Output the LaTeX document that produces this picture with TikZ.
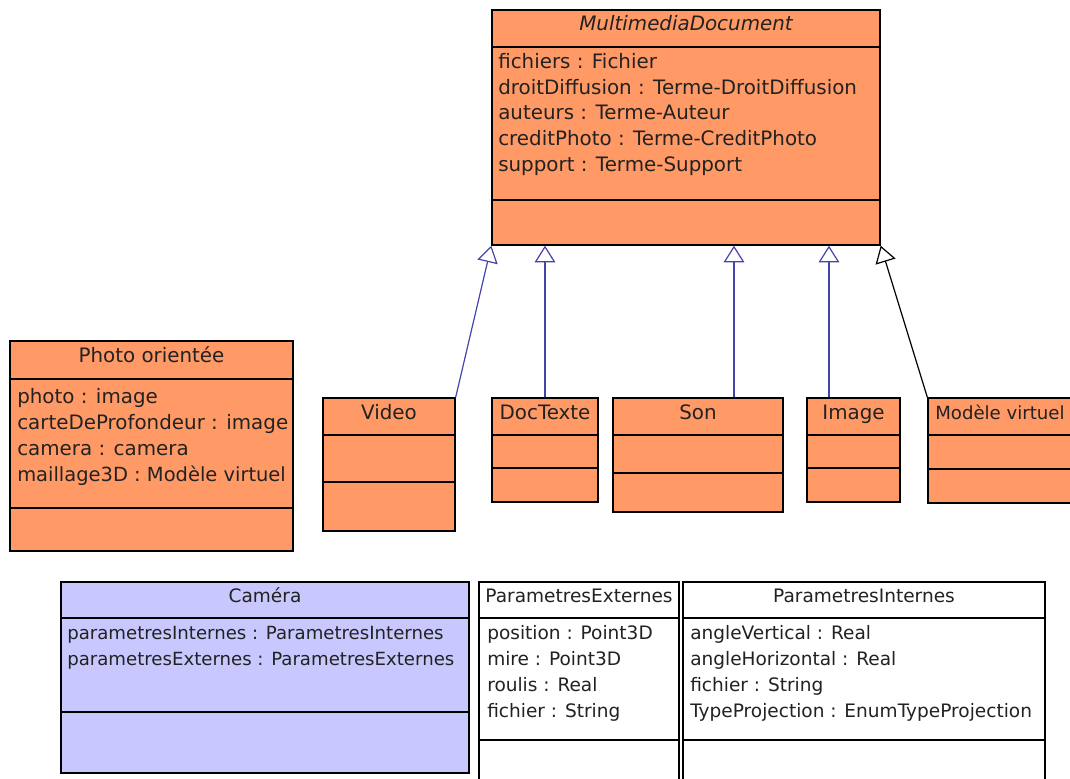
\documentclass[tikz,border=0pt]{standalone}
\usepackage{fontspec}
\setmainfont{DejaVu Sans}
\usetikzlibrary{arrows.meta,fit,calc,shadows}
\definecolor{orangefill}{HTML}{FF9966}
\definecolor{lavfill}{HTML}{C8C8FF}
\definecolor{inhblue}{HTML}{4444AA}
\definecolor{txt}{HTML}{222222}
\begin{document}
\begin{tikzpicture}[x=0.75pt,y=-0.75pt,
  classbox/.style={draw=black, line width=1pt, inner sep=0pt,
    drop shadow={shadow xshift=1pt, shadow yshift=-1pt, opacity=0.25}},
  orangebox/.style={classbox, fill=orangefill},
  lavbox/.style={classbox, fill=lavfill},
  whitebox/.style={classbox, fill=white},
  sepline/.style={draw=black, line width=1pt},
  attr/.style={anchor=base west, inner sep=0pt, text=txt, font=\fontsize{14.9pt}{17pt}\selectfont},
  battr/.style={attr, font=\fontsize{13.9pt}{17pt}\selectfont},
  ctitle/.style={anchor=base, inner sep=0pt, text=txt, font=\fontsize{14.9pt}{17pt}\selectfont},
  bctitle/.style={ctitle, font=\fontsize{13.9pt}{17pt}\selectfont},
  inhb/.style={draw=inhblue, line width=0.9pt, -{Triangle[open, length=12.5pt, width=15.5pt, fill=white]}},
  inhk/.style={draw=black, line width=0.9pt, -{Triangle[open, length=12.5pt, width=15.5pt, fill=white]}}]
\useasboundingbox (0,0) rectangle (1070,778);

% MultimediaDocument
\node[orangebox, fit={(492,10)(880,245)}] (md) {};
\draw[sepline] (492,47) -- (880,47);
\draw[sepline] (492,200) -- (880,200);
\node[ctitle, font=\fontsize{14.9pt}{17pt}\selectfont\itshape] (mdt) at (686,31) {MultimediaDocument};
\node[attr] (mda1) at (498,68) {fichiers : Fichier};
\node[attr] (mda2) at (498,94) {droitDiffusion : Terme-DroitDiffusion};
\node[attr] (mda3) at (498,119) {auteurs : Terme-Auteur};
\node[attr] (mda4) at (498,145) {creditPhoto : Terme-CreditPhoto};
\node[attr] (mda5) at (498,171) {support : Terme-Support};

% Subclasses
\node[orangebox, fit={(323,398)(455,531)}] (video) {};
\draw[sepline] (323,435) -- (455,435);
\draw[sepline] (323,482) -- (455,482);
\node[ctitle] (videot) at (389,419) {Video};

\node[orangebox, fit={(492,398)(598,502)}] (doc) {};
\draw[sepline] (492,435) -- (598,435);
\draw[sepline] (492,468) -- (598,468);
\node[ctitle] (doct) at (545,419) {DocTexte};

\node[orangebox, fit={(613,398)(783,512)}] (son) {};
\draw[sepline] (613,435) -- (783,435);
\draw[sepline] (613,473) -- (783,473);
\node[ctitle] (sont) at (698,419) {Son};

\node[orangebox, fit={(807,398)(900,502)}] (image) {};
\draw[sepline] (807,435) -- (900,435);
\draw[sepline] (807,468) -- (900,468);
\node[ctitle] (imaget) at (853.5,419) {Image};

\node[orangebox, fit={(928,398)(1085,503)}] (mv) {};
\draw[sepline] (928,435) -- (1085,435);
\draw[sepline] (928,469) -- (1085,469);
\node[attr, font=\fontsize{13.6pt}{17pt}\selectfont] (mvt) at (935,419) {Modèle virtuel};

% Inheritance
\draw[inhb] (video.north east) -- (md.south west);
\draw[inhb] (doc.north) -- (doc.north |- md.south);
\draw[inhb] ([xshift=27pt]son.north) -- ([xshift=27pt]son.north |- md.south);
\draw[inhb] ([xshift=-18.4pt]image.north) -- ([xshift=-18.4pt]image.north |- md.south);
\draw[inhk] (mv.north west) -- (md.south east);

% Photo orientee
\node[orangebox, fit={(10,341)(293,551)}] (photo) {};
\draw[sepline] (10,379) -- (293,379);
\draw[sepline] (10,508) -- (293,508);
\node[ctitle] (photot) at (151.5,362) {Photo orientée};
\node[attr] (pa1) at (17,403) {photo : image};
\node[attr] (pa2) at (17,429) {carteDeProfondeur : image};
\node[attr] (pa3) at (17,455) {camera : camera};
\node[attr, font=\fontsize{14.6pt}{17pt}\selectfont] (pa4) at (17,481) {maillage3D : Modèle virtuel};

% Camera
\node[lavbox, fit={(61,582)(469,773)}] (cam) {};
\draw[sepline] (61,618) -- (469,618);
\draw[sepline] (61,712) -- (469,712);
\node[bctitle] (camt) at (265,602) {Caméra};
\node[battr, font=\fontsize{13.6pt}{17pt}\selectfont] (ca1) at (67,639) {parametresInternes : ParametresInternes};
\node[battr, font=\fontsize{13.6pt}{17pt}\selectfont] (ca2) at (67,665) {parametresExternes : ParametresExternes};

% ParametresExternes
\node[whitebox, fit={(479,582)(679,795)}] (pe) {};
\draw[sepline] (479,618) -- (679,618);
\draw[sepline] (479,740) -- (679,740);
\node[bctitle] (pet) at (579,602) {ParametresExternes};
\node[battr] (pe1) at (487,639) {position : Point3D};
\node[battr] (pe2) at (487,665) {mire : Point3D};
\node[battr] (pe3) at (487,691) {roulis : Real};
\node[battr] (pe4) at (487,717) {fichier : String};

% ParametresInternes
\node[whitebox, fit={(683,582)(1045,795)}] (pi) {};
\draw[sepline] (683,618) -- (1045,618);
\draw[sepline] (683,740) -- (1045,740);
\node[bctitle] (pit) at (864,602) {ParametresInternes};
\node[battr] (pi1) at (690,639) {angleVertical : Real};
\node[battr] (pi2) at (690,665) {angleHorizontal : Real};
\node[battr] (pi3) at (690,691) {fichier : String};
\node[battr] (pi4) at (690,717) {TypeProjection : EnumTypeProjection};
\end{tikzpicture}
\end{document}
